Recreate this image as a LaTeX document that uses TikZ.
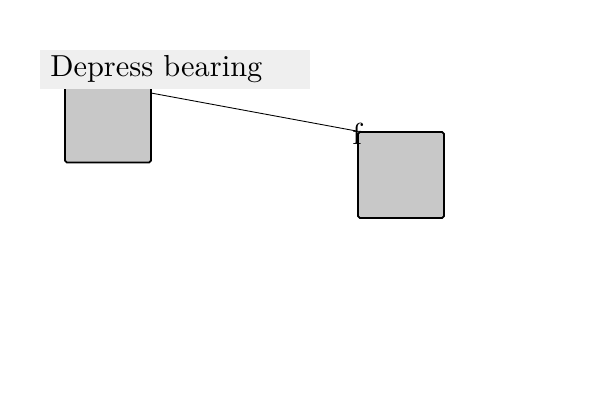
\documentclass[tikz,border=0pt]{standalone}
\usepackage{tikz}
\usepackage{graphicx}
\usetikzlibrary{positioning}

\definecolor{boxgray}{RGB}{200,200,200}
\definecolor{labelgray}{RGB}{239,239,239}
\newcommand{\bigtext}[1]{\scalebox{1.73}{#1}}

\tikzset{
  block/.style={draw=black,line width=1pt,rounded corners=1pt,fill=boxgray,
    minimum width=1.72cm,minimum height=1.72cm,inner sep=0pt},
  caption/.style={fill=labelgray,text width=5cm,align=left,inner xsep=0.2cm,
    minimum height=0.78cm},
  tag/.style={inner sep=0pt}
}

\begin{document}
\begin{tikzpicture}[x=0.02cm,y=-0.02cm]
 \useasboundingbox (0,0) rectangle (600,400);
 \node[block] (bearing) at (108,119.5) {};
 \node[block] (target) at (401,175) {};
 \coordinate (link) at (151,93);
 \draw[line width=0.5pt] (link) -- (target.north west);
 \node[tag] (f) at (357,134) {\bigtext{f}};
 \node[caption,anchor=west] (depress) at (40,69.5) {\bigtext{Depress bearing}};
\end{tikzpicture}
\end{document}
